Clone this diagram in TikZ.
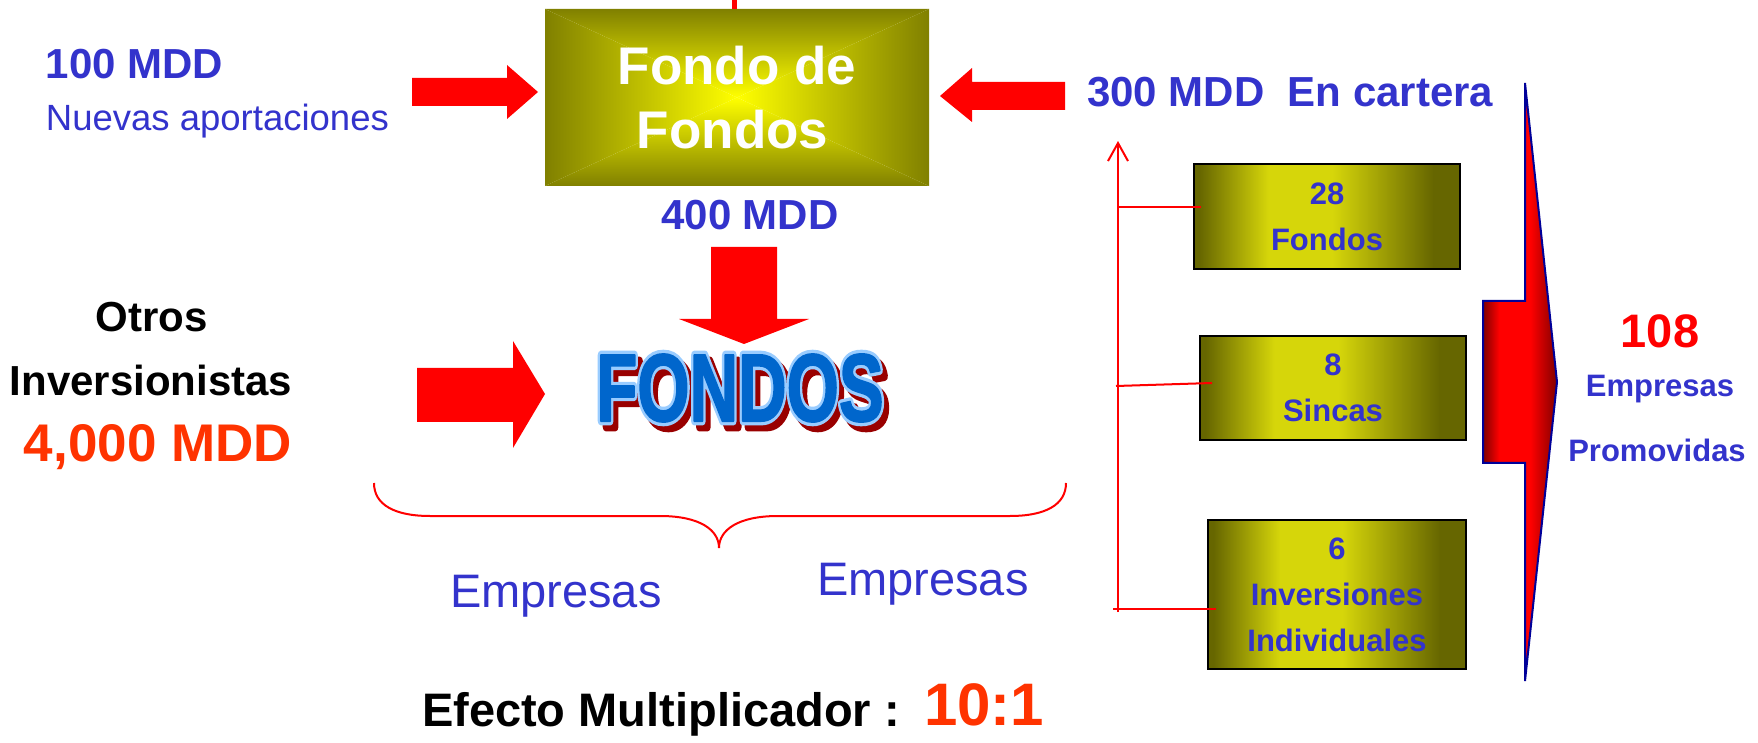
\documentclass[tikz,border=0pt]{standalone}
\usepackage{fontspec}
\usepackage{graphicx}
\setmainfont{Liberation Sans}
\newfontfamily\fondosfat[FakeBold=9]{Liberation Sans Bold}
\newfontfamily\fondosreg[FakeBold=2]{Liberation Sans Bold}
\usetikzlibrary{arrows.meta}
\definecolor{tblue}{RGB}{51,51,204}
\definecolor{tred}{RGB}{255,0,0}
\definecolor{torange}{RGB}{255,51,0}
\definecolor{olivedk}{RGB}{128,128,0}
\definecolor{boxdk}{RGB}{102,102,0}
\definecolor{boxyl}{RGB}{214,214,10}
\definecolor{fblue}{RGB}{0,102,204}
\definecolor{flight}{RGB}{153,204,255}
\definecolor{fshadow}{RGB}{153,0,0}
\definecolor{adkred}{RGB}{128,0,0}
\definecolor{adkblue}{RGB}{0,0,153}
\pgfdeclarehorizontalshading{boxshade}{100bp}{color(0bp)=(boxdk); color(26bp)=(boxdk); color(39bp)=(boxyl); color(51bp)=(boxyl); color(70bp)=(boxdk); color(100bp)=(boxdk)}
\pgfdeclarehorizontalshading{arrowshade}{100bp}{color(0bp)=(adkred); color(25bp)=(adkred); color(36bp)=(red); color(57bp)=(red); color(75bp)=(adkred); color(100bp)=(adkred)}
\pgfdeclarelayer{background}
\pgfsetlayers{background,main}
\newcommand\myfs[2]{\fontsize{#1}{#2}\selectfont}
\newcommand\fondosword[1]{\scalebox{0.7}[1]{\myfs{48pt}{48pt}#1FONDOS}}
\begin{document}
\begin{tikzpicture}[x=0.5pt,y=-0.5pt,
  txt/.style={inner sep=0pt, outer sep=0pt},
  bigb/.style={txt, text=tblue, font=\myfs{21pt}{25pt}\bfseries},
  blockarrow/.style={fill=tred, draw=none},
  smallbox/.style={draw=black, line width=1.2pt, shade, shading=boxshade, align=center,
     text=tblue, font=\myfs{15.5pt}{23pt}\bfseries, inner sep=0pt, outer sep=0pt},
  fword/.style={txt},
  redline/.style={draw=tred, line width=1pt}
]
\useasboundingbox (0,0) rectangle (1758,743);

% Fondo de Fondos
\node[txt, minimum width=192pt, minimum height=88.5pt, align=center, text=white,
  font=\myfs{26.5pt}{32pt}\bfseries] (ff) at (737,97.5) {Fondo de\\Fondos\,};
\begin{pgfonlayer}{background}
\shade[top color=olivedk, bottom color=yellow] (ff.north west) -- (ff.north east) -- (ff.center) -- cycle;
\shade[top color=yellow, bottom color=olivedk] (ff.south west) -- (ff.south east) -- (ff.center) -- cycle;
\shade[left color=olivedk, right color=yellow] (ff.north west) -- (ff.south west) -- (ff.center) -- cycle;
\shade[left color=yellow, right color=olivedk] (ff.north east) -- (ff.south east) -- (ff.center) -- cycle;
\end{pgfonlayer}
\coordinate (topin) at (734,0);
\draw[tred, line width=2.5pt] (topin) -- (topin |- ff.north);

% left texts
\node[bigb, anchor=base west] (t100) at (46,79) {100 MDD};
\node[txt, anchor=base west, text=tblue, font=\myfs{18.25pt}{22pt}] (tnuevas) at (46,131) {Nuevas aportaciones};
\node[txt, anchor=base, font=\myfs{21pt}{25pt}\bfseries] (totros) at (152,332) {Otros};
\node[txt, anchor=base, font=\myfs{21pt}{25pt}\bfseries] (tinv) at (151,396) {Inversionistas};
\node[txt, anchor=base, text=torange, font=\myfs{26.5pt}{30pt}\bfseries] (t4000) at (158,461) {4,000 MDD};

% block arrows
\fill[blockarrow] (412,78) -- (507,78) -- (507,65) -- (538,92) -- (507,119) -- (507,106) -- (412,106) -- cycle;
\fill[blockarrow] (417,368) -- (513,368) -- (513,341) -- (545,394) -- (513,448) -- (513,422) -- (417,422) -- cycle;
\fill[blockarrow] (1065,82) -- (972,82) -- (972,68) -- (940,96) -- (972,122) -- (972,110) -- (1065,110) -- cycle;
\fill[blockarrow] (711,247) -- (777,247) -- (777,319) -- (809,319) -- (744,344) -- (679,319) -- (711,319) -- cycle;

\node[bigb, anchor=base] (t400) at (750,230) {400 MDD};
\node[bigb, anchor=base west] (t300) at (1087,107) {300 MDD~~En cartera};

% FONDOS word art: shadow, light outline, blue face
\node[fword, text=fshadow] (fshad) at (745,394) {\special{pdf:code 1 j}\fondosword{\fondosfat}};
\node[fword, text=flight] (fline) at (740,388) {\special{pdf:code 1 j}\fondosword{\fondosfat}};
\node[fword, text=fblue] (fondos) at (740,388) {\special{pdf:code 1 j}\fondosword{\fondosreg}};

% brace
\draw[redline] (374,483) .. controls (374,505) and (395,516) .. (430,516) -- (660,516)
  .. controls (700,516) and (719,530) .. (719,548)
  .. controls (719,530) and (738,516) .. (778,516) -- (1010,516)
  .. controls (1045,516) and (1066,505) .. (1066,483);

\node[txt, anchor=base west, text=tblue, font=\myfs{23.5pt}{28pt}] (emp1) at (450,607) {Empresas};
\node[txt, anchor=base west, text=tblue, font=\myfs{23.5pt}{28pt}] (emp2) at (817,596) {Empresas};
\node[txt, anchor=base west, font=\myfs{23.5pt}{28pt}\bfseries] (efecto) at (422,726) {Efecto Multiplicador :};
\node[txt, anchor=base west, text=torange, font=\myfs{30pt}{34pt}\bfseries] (ratio) at (924,725) {10:1};

% small boxes
\node[smallbox, minimum width=133pt, minimum height=52.5pt] (b1) at (1327,216.5) {28\\Fondos};
\node[smallbox, minimum width=133pt, minimum height=52pt] (b2) at (1333,388) {8\\Sincas};
\node[smallbox, minimum width=129pt, minimum height=74.5pt] (b3) at (1337,594.5) {6\\Inversiones\\Individuales};

% vertical line and branches
\coordinate (vb) at (1118,612);
\coordinate (vt) at (1118,141);
\draw[redline, -{Straight Barb[length=9pt,width=10pt,line width=1pt]}] (vb) -- (vt);
\coordinate (l1a) at (1118,207); \coordinate (l1b) at (1201,207);
\coordinate (l2a) at (1116,386); \coordinate (l2b) at (1212,383);
\coordinate (l3a) at (1113,609); \coordinate (l3b) at (1216,609);
\draw[redline] (l1a) -- (l1b);
\draw[redline] (l2a) -- (l2b);
\draw[redline] (l3a) -- (l3b);

% big arrow
\shade[shading=arrowshade, draw=adkblue, line width=1pt] (1525,83) -- (1557,382) -- (1525,681) -- (1525,463) -- (1483,463) -- (1483,301) -- (1525,301) -- cycle;

\node[txt, anchor=base, text=tred, font=\myfs{23.5pt}{28pt}\bfseries] (t108) at (1660,348) {108};
\node[txt, anchor=base, text=tblue, font=\myfs{15.5pt}{20pt}\bfseries] (temp) at (1660,397) {Empresas};
\node[txt, anchor=base, text=tblue, font=\myfs{15.5pt}{20pt}\bfseries] (tprom) at (1657,462) {Promovidas};
\end{tikzpicture}
\end{document}
